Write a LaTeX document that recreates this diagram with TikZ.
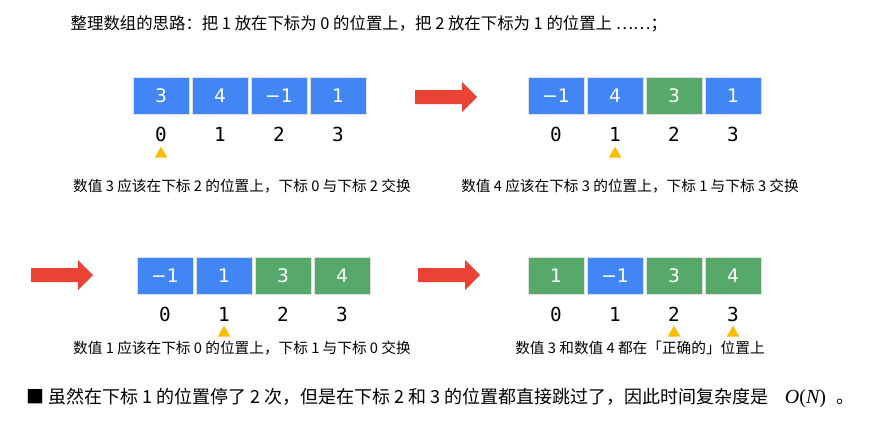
\documentclass[tikz,border=0pt]{standalone}
\usepackage{fontspec}
\setmainfont{Liberation Serif}
\newfontfamily\cjk{Noto Sans CJK SC}
\newfontfamily\valfont{DejaVu Sans}
\newfontfamily\idxfont{DejaVu Sans Mono}
\usepackage{tikz}
\usetikzlibrary{positioning, shapes.geometric}
\usepackage{xcolor}
\definecolor{gblue}{HTML}{4285F4}
\definecolor{ggreen}{HTML}{57A86B}
\definecolor{gred}{HTML}{EA4335}
\definecolor{gyellow}{HTML}{FBBC04}

\begin{document}
\begin{tikzpicture}[x=0.75pt, y=-0.75pt, every node/.style={font=\cjk\fontsize{11}{13}\selectfont},
  cell/.style={rectangle, draw=white!75!gray, line width=0.4pt, minimum width=42pt, minimum height=27.75pt, inner sep=0pt, text=white, font=\valfont\fontsize{14}{16}\selectfont},
  idx/.style={inner sep=0pt, font=\idxfont\fontsize{14.5}{16}\selectfont},
  ptr/.style={regular polygon, regular polygon sides=3, fill=gyellow, inner sep=0pt, minimum size=11pt},
  bigarrow/.style={fill=gred}]

\useasboundingbox (0,0) rectangle (873,422);

% Title
\node[anchor=west, font=\cjk\fontsize{12.3}{14}\selectfont] at (66,24) (title) {整理数组的思路：把 1 放在下标为 0 的位置上，把 2 放在下标为 1 的位置上 ……；};

% Step 1
\foreach \v/\c [count=\i from 0] in {3/gblue, 4/gblue, −1/gblue, 1/gblue} {
  \node[cell, fill=\c] at (161+59*\i,95.5) (a\i) {\v};
  \node[idx] at ([yshift=-15pt]a\i.south) (ia\i) {\i};
}
\node[ptr] at (161,154) (pa) {};
\node at (242,186) (capa) {数值 3 应该在下标 2 的位置上，下标 0 与下标 2 交换};

% Step 2
\foreach \v/\c [count=\i from 0] in {−1/gblue, 4/gblue, 3/ggreen, 1/gblue} {
  \node[cell, fill=\c] at (556+59*\i,95.5) (b\i) {\v};
  \node[idx] at ([yshift=-15pt]b\i.south) (ib\i) {\i};
}
\node[ptr] at (615,154) (pb) {};
\node at (630,186) (capb) {数值 4 应该在下标 3 的位置上，下标 1 与下标 3 交换};

% Step 3
\foreach \v/\c [count=\i from 0] in {−1/gblue, 1/gblue, 3/ggreen, 4/ggreen} {
  \node[cell, fill=\c] at (165+59*\i,275.5) (c\i) {\v};
  \node[idx] at ([yshift=-15pt]c\i.south) (ic\i) {\i};
}
\node[ptr] at (224,333) (pc) {};
\node at (242,348) (capc) {数值 1 应该在下标 0 的位置上，下标 1 与下标 0 交换};

% Step 4
\foreach \v/\c [count=\i from 0] in {1/ggreen, −1/gblue, 3/ggreen, 4/ggreen} {
  \node[cell, fill=\c] at (556+59*\i,276) (d\i) {\v};
  \node[idx] at ([yshift=-15pt]d\i.south) (id\i) {\i};
}
\node[ptr] at (674,333) (pd1) {};
\node[ptr] at (733,333) (pd2) {};
\node at (640,348) (capd) {数值 3 和数值 4 都在「正确的」位置上};

% Red arrows between steps
\foreach \ax/\ay in {415/97, 31/275, 418/275} {
  \fill[bigarrow] (\ax,\ay-7) -- ++(47,0) -- ++(0,-8) -- ++(15,15) -- ++(-15,15) -- ++(0,-8) -- ++(-47,0) -- cycle;
}

% Conclusion
\node[anchor=west, font=\cjk\fontsize{13.5}{15}\selectfont] at (22,398) (note) {■ 虽然在下标 1 的位置停了 2 次，但是在下标 2 和 3 的位置都直接跳过了，因此时间复杂度是\hspace{12pt}{\rmfamily\fontsize{15}{17}\selectfont\itshape O\upshape(\itshape N\upshape)}\hspace{8pt}。};

\end{tikzpicture}
\end{document}
